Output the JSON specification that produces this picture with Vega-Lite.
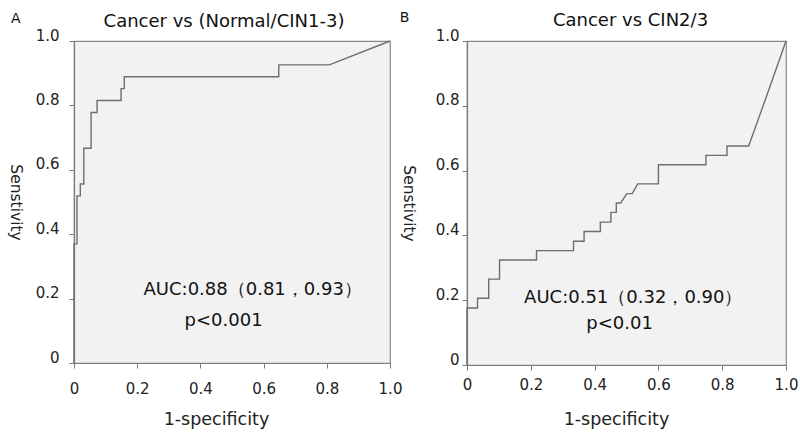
{
  "$schema": "https://vega.github.io/schema/vega-lite/v6.json",
  "background": "white",
  "padding": {"left": 5, "top": 10, "right": 5, "bottom": 5},
  "datasets": {
    "rocA": [
      {"i": 0, "fpr": 0, "tpr": 0},
      {"i": 1, "fpr": 0, "tpr": 0.370},
      {"i": 2, "fpr": 0.0095, "tpr": 0.370},
      {"i": 3, "fpr": 0.0095, "tpr": 0.519},
      {"i": 4, "fpr": 0.020, "tpr": 0.519},
      {"i": 5, "fpr": 0.020, "tpr": 0.556},
      {"i": 6, "fpr": 0.031, "tpr": 0.556},
      {"i": 7, "fpr": 0.031, "tpr": 0.667},
      {"i": 8, "fpr": 0.054, "tpr": 0.667},
      {"i": 9, "fpr": 0.054, "tpr": 0.778},
      {"i": 10, "fpr": 0.073, "tpr": 0.778},
      {"i": 11, "fpr": 0.073, "tpr": 0.815},
      {"i": 12, "fpr": 0.149, "tpr": 0.815},
      {"i": 13, "fpr": 0.149, "tpr": 0.852},
      {"i": 14, "fpr": 0.159, "tpr": 0.852},
      {"i": 15, "fpr": 0.159, "tpr": 0.889},
      {"i": 16, "fpr": 0.648, "tpr": 0.889},
      {"i": 17, "fpr": 0.648, "tpr": 0.926},
      {"i": 18, "fpr": 0.808, "tpr": 0.926},
      {"i": 19, "fpr": 1, "tpr": 1}
    ],
    "rocB": [
      {"i": 0, "fpr": 0, "tpr": 0},
      {"i": 1, "fpr": 0, "tpr": 0.176},
      {"i": 2, "fpr": 0.033, "tpr": 0.176},
      {"i": 3, "fpr": 0.033, "tpr": 0.206},
      {"i": 4, "fpr": 0.068, "tpr": 0.206},
      {"i": 5, "fpr": 0.068, "tpr": 0.265},
      {"i": 6, "fpr": 0.102, "tpr": 0.265},
      {"i": 7, "fpr": 0.102, "tpr": 0.324},
      {"i": 8, "fpr": 0.218, "tpr": 0.324},
      {"i": 9, "fpr": 0.218, "tpr": 0.353},
      {"i": 10, "fpr": 0.334, "tpr": 0.353},
      {"i": 11, "fpr": 0.334, "tpr": 0.382},
      {"i": 12, "fpr": 0.367, "tpr": 0.382},
      {"i": 13, "fpr": 0.367, "tpr": 0.412},
      {"i": 14, "fpr": 0.418, "tpr": 0.412},
      {"i": 15, "fpr": 0.418, "tpr": 0.441},
      {"i": 16, "fpr": 0.451, "tpr": 0.441},
      {"i": 17, "fpr": 0.451, "tpr": 0.471},
      {"i": 18, "fpr": 0.468, "tpr": 0.471},
      {"i": 19, "fpr": 0.468, "tpr": 0.5},
      {"i": 20, "fpr": 0.482, "tpr": 0.5},
      {"i": 21, "fpr": 0.501, "tpr": 0.529},
      {"i": 22, "fpr": 0.518, "tpr": 0.529},
      {"i": 23, "fpr": 0.535, "tpr": 0.559},
      {"i": 24, "fpr": 0.6, "tpr": 0.559},
      {"i": 25, "fpr": 0.6, "tpr": 0.618},
      {"i": 26, "fpr": 0.749, "tpr": 0.618},
      {"i": 27, "fpr": 0.749, "tpr": 0.647},
      {"i": 28, "fpr": 0.815, "tpr": 0.647},
      {"i": 29, "fpr": 0.815, "tpr": 0.676},
      {"i": 30, "fpr": 0.883, "tpr": 0.676},
      {"i": 31, "fpr": 0.942, "tpr": 0.838},
      {"i": 32, "fpr": 1, "tpr": 1}
    ],
    "notes": [
      {"key": "A", "text": "A"},
      {"key": "B", "text": "B"},
      {"key": "aucA", "text": "AUC:0.88（0.81，0.93）"},
      {"key": "pA", "text": "p<0.001"},
      {"key": "aucB", "text": "AUC:0.51（0.32，0.90）"},
      {"key": "pB", "text": "p<0.01"}
    ]
  },
  "config": {
    "font": "DejaVu Sans",
    "view": {"stroke": "#8a8a8a", "strokeWidth": 1.2, "fill": "#f2f2f2"},
    "axis": {
      "grid": false,
      "domainColor": "#7a7a7a",
      "domainWidth": 1.2,
      "tickColor": "#7a7a7a",
      "tickSize": 5,
      "labelFont": "DejaVu Sans",
      "labelFontSize": 15,
      "labelColor": "#222222",
      "titleFont": "DejaVu Sans",
      "titleFontWeight": "normal",
      "titleColor": "#222222"
    },
    "title": {"font": "DejaVu Sans", "fontSize": 18, "fontWeight": "normal", "color": "#111111", "baseline": "alphabetic", "offset": -19, "frame": "group"}
  },
  "hconcat": [
    {
      "width": 316,
      "height": 322,
      "title": {"text": "Cancer vs (Normal/CIN1-3)", "dx": -8},
      "layer": [
        {
          "data": {"name": "rocA"},
          "mark": {"type": "line", "color": "#6e6e6e", "strokeWidth": 1.4},
          "encoding": {
            "x": {"field": "fpr", "type": "quantitative", "scale": {"domain": [0, 1]},
              "axis": {"values": [0, 0.2, 0.4, 0.6, 0.8, 1], "labelExpr": "datum.value == 0 ? '0' : format(datum.value, '.1f')", "labelFlush": false, "labelPadding": 13, "title": "1-specificity", "titleFontSize": 17.5, "titleX": 142, "titleY": 56, "titleBaseline": "middle"}},
            "y": {"field": "tpr", "type": "quantitative", "scale": {"domain": [0, 1]},
              "axis": {"values": [0, 0.2, 0.4, 0.6, 0.8, 1], "labelExpr": "datum.value == 0 ? '0' : format(datum.value, '.1f')", "labelPadding": 10, "labelOffset": -6, "title": "Senstivity", "titleFontSize": 15.5, "titleAngle": 90, "titleX": -59, "titleY": 161, "titleBaseline": "middle", "titleAlign": "center"}},
            "order": {"field": "i"}
          }
        },
        {
          "data": {"name": "notes"},
          "transform": [{"filter": "datum.key == 'A'"}],
          "mark": {"type": "text", "fontSize": 14, "align": "center", "baseline": "middle", "color": "#111111"},
          "encoding": {"x": {"datum": -0.184}, "y": {"datum": 1.068}, "text": {"field": "text"}}
        },
        {
          "data": {"name": "notes"},
          "transform": [{"filter": "datum.key == 'aucA'"}],
          "mark": {"type": "text", "fontSize": 18, "align": "left", "baseline": "middle", "color": "#111111"},
          "encoding": {"x": {"datum": 0.22}, "y": {"datum": 0.227}, "text": {"field": "text"}}
        },
        {
          "data": {"name": "notes"},
          "transform": [{"filter": "datum.key == 'pA'"}],
          "mark": {"type": "text", "fontSize": 18, "align": "left", "baseline": "middle", "color": "#111111"},
          "encoding": {"x": {"datum": 0.35}, "y": {"datum": 0.13}, "text": {"field": "text"}}
        }
      ]
    },
    {
      "width": 319,
      "height": 324,
      "title": {"text": "Cancer vs CIN2/3", "dx": 4},
      "layer": [
        {
          "data": {"name": "rocB"},
          "mark": {"type": "line", "color": "#6e6e6e", "strokeWidth": 1.4},
          "encoding": {
            "x": {"field": "fpr", "type": "quantitative", "scale": {"domain": [0, 1]},
              "axis": {"values": [0, 0.2, 0.4, 0.6, 0.8, 1], "labelExpr": "datum.value == 0 ? '0' : format(datum.value, '.1f')", "labelFlush": false, "labelPadding": 7, "title": "1-specificity", "titleFontSize": 17.5, "titleX": 149, "titleY": 54, "titleBaseline": "middle"}},
            "y": {"field": "tpr", "type": "quantitative", "scale": {"domain": [0, 1]},
              "axis": {"values": [0, 0.2, 0.4, 0.6, 0.8, 1], "labelExpr": "datum.value == 0 ? '0' : format(datum.value, '.1f')", "labelPadding": 3, "labelOffset": -6, "title": "Senstivity", "titleFontSize": 15.5, "titleAngle": 90, "titleX": -59, "titleY": 162, "titleBaseline": "middle", "titleAlign": "center"}},
            "order": {"field": "i"}
          }
        },
        {
          "data": {"name": "notes"},
          "transform": [{"filter": "datum.key == 'B'"}],
          "mark": {"type": "text", "fontSize": 14, "align": "center", "baseline": "middle", "color": "#111111"},
          "encoding": {"x": {"datum": -0.196}, "y": {"datum": 1.071}, "text": {"field": "text"}}
        },
        {
          "data": {"name": "notes"},
          "transform": [{"filter": "datum.key == 'aucB'"}],
          "mark": {"type": "text", "fontSize": 18, "align": "left", "baseline": "middle", "color": "#111111"},
          "encoding": {"x": {"datum": 0.179}, "y": {"datum": 0.208}, "text": {"field": "text"}}
        },
        {
          "data": {"name": "notes"},
          "transform": [{"filter": "datum.key == 'pB'"}],
          "mark": {"type": "text", "fontSize": 18, "align": "left", "baseline": "middle", "color": "#111111"},
          "encoding": {"x": {"datum": 0.374}, "y": {"datum": 0.127}, "text": {"field": "text"}}
        }
      ]
    }
  ],
  "spacing": 77,
  "bounds": "flush"
}
